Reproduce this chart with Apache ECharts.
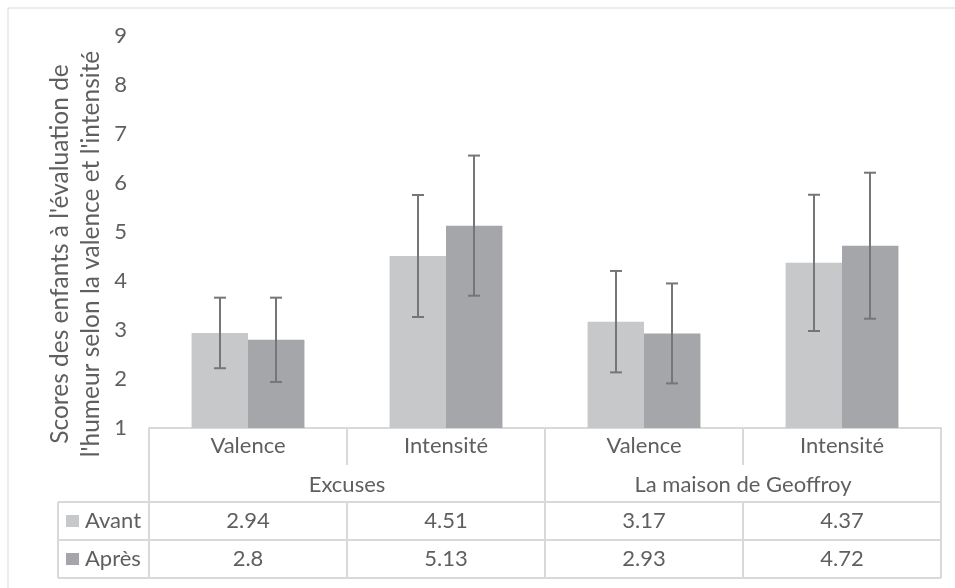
<!DOCTYPE html>
<html>
<head>
<meta charset="utf-8">
<script src="https://cdn.jsdelivr.net/npm/echarts@6/dist/echarts.min.js"></script>
<style>
html,body{margin:0;padding:0;background:#fff;}
#c{width:955px;height:588px;}
</style>
</head>
<body>
<div id="c"></div>
<script>
const categories = ['Valence', 'Intensité', 'Valence', 'Intensité'];
const groups = ['Excuses', 'La maison de Geoffroy'];
const seriesNames = ['Avant', 'Après'];
const avant = [2.94, 4.51, 3.17, 4.37];
const apres = [2.8, 5.13, 2.93, 4.72];
const avantSD = [0.72, 1.245, 1.035, 1.39];
const apresSD = [0.86, 1.43, 1.02, 1.49];
const yMin = 1, yMax = 9, yStep = 1;
const yTitle = "Scores des enfants à l'évaluation de\nl'humeur selon la valence et l'intensité";

const FONT = 'Lato';
const TXT = '#5f5f5f';
const LINE = '#d9d9d9';
const colors = ['#c7c8ca', '#a5a6a9'];
const ERR = '#767676';
const CAT_GAP = 0.43;
const FS = 22;
const FS_TITLE = 24.5;

const chart = echarts.init(document.getElementById('c'), null, {renderer: 'canvas'});

function errSeries(idx, means, sds) {
  return {
    type: 'custom',
    name: seriesNames[idx] + ' SD',
    z: 5,
    silent: true,
    data: means.map((m, i) => [i, m, sds[i]]),
    renderItem: function (params, api) {
      const i = api.value(0), m = api.value(1), sd = api.value(2);
      const hi = api.coord([i, m + sd]);
      const lo = api.coord([i, m - sd]);
      const band = api.size([1, 0])[0];
      const bw = band * (1 - CAT_GAP) / 2;
      const cx = Math.round(hi[0] + (idx === 0 ? -1 : 1) * bw / 2);
      const cap = 6;
      const st = {stroke: ERR, lineWidth: 2};
      return {
        type: 'group',
        children: [
          {type: 'line', shape: {x1: cx, y1: hi[1], x2: cx, y2: lo[1]}, style: st},
          {type: 'line', shape: {x1: cx - cap, y1: hi[1], x2: cx + cap, y2: hi[1]}, style: st},
          {type: 'line', shape: {x1: cx - cap, y1: lo[1], x2: cx + cap, y2: lo[1]}, style: st}
        ]
      };
    }
  };
}

chart.setOption({
  animation: false,
  textStyle: {fontFamily: FONT},
  grid: {left: 149, right: 14, top: 36, bottom: 160, containLabel: false},
  xAxis: {
    type: 'category',
    data: categories,
    axisLine: {show: true, lineStyle: {color: LINE, width: 2}},
    axisTick: {show: false},
    axisLabel: {show: true, color: TXT, fontSize: FS, fontFamily: FONT, margin: 7, interval: 0}
  },
  yAxis: {
    type: 'value',
    min: yMin, max: yMax, interval: yStep,
    axisLine: {show: false},
    axisTick: {show: false},
    splitLine: {show: false},
    axisLabel: {color: TXT, fontSize: FS, fontFamily: FONT, margin: 22}
  },
  series: [
    {type: 'bar', name: seriesNames[0], data: avant, barGap: '0%', barCategoryGap: (CAT_GAP * 100) + '%', itemStyle: {color: colors[0]}},
    {type: 'bar', name: seriesNames[1], data: apres, barGap: '0%', barCategoryGap: (CAT_GAP * 100) + '%', itemStyle: {color: colors[1]}},
    errSeries(0, avant, avantSD),
    errSeries(1, apres, apresSD)
  ]
});

function buildTable() {
  const c0 = chart.convertToPixel({xAxisIndex: 0}, 0);
  const c1 = chart.convertToPixel({xAxisIndex: 0}, 1);
  const band = c1 - c0;
  const centers = categories.map((_, i) => chart.convertToPixel({xAxisIndex: 0}, i));
  const left = centers[0] - band / 2;
  const right = centers[centers.length - 1] + band / 2;
  const yAxisPix = chart.convertToPixel({yAxisIndex: 0}, yMin);
  const rowCat = yAxisPix + 37;
  const rowGrp = yAxisPix + 74;
  const row1 = rowGrp + 38;
  const row2 = row1 + 38;
  const legLeft = 58;
  const els = [];
  const ln = (x1, y1, x2, y2) => els.push({type: 'line', silent: true, shape: {x1, y1, x2, y2}, style: {stroke: LINE, lineWidth: 2}});
  // frame
  els.push({type: 'rect', silent: true, shape: {x: 8, y: 8, width: 1000, height: 700}, style: {fill: null, stroke: LINE, lineWidth: 1}});
  // verticals
  ln(left, yAxisPix, left, row2);
  ln(right, yAxisPix, right, row2);
  const perGroup = categories.length / groups.length;
  for (let k = 1; k < categories.length; k++) {
    const x = left + k * band;
    if (k % perGroup === 0) {
      ln(x, yAxisPix, x, row2);
    } else {
      ln(x, yAxisPix, x, rowCat);
      ln(x, rowGrp, x, row2);
    }
  }
  ln(legLeft, rowGrp, legLeft, row2);
  ln(legLeft, rowGrp, right, rowGrp);
  ln(legLeft, row1, right, row1);
  ln(legLeft, row2, right, row2);
  // group labels
  groups.forEach((g, gi) => {
    const gx = left + (gi + 0.5) * perGroup * band;
    els.push({type: 'text', silent: true, x: gx, y: (rowCat + rowGrp) / 2 + 1,
      style: {text: g, fill: TXT, font: FS + 'px ' + FONT, align: 'center', verticalAlign: 'middle'}});
  });
  // data rows
  const rows = [avant, apres];
  rows.forEach((vals, ri) => {
    const yTop = ri === 0 ? rowGrp : row1;
    const yc = yTop + 19;
    els.push({type: 'rect', silent: true, shape: {x: 66, y: yc - 6, width: 13, height: 12}, style: {fill: colors[ri]}});
    els.push({type: 'text', silent: true, x: 85, y: yc,
      style: {text: seriesNames[ri], fill: TXT, font: FS + 'px ' + FONT, align: 'left', verticalAlign: 'middle'}});
    vals.forEach((v, i) => {
      els.push({type: 'text', silent: true, x: centers[i], y: yc,
        style: {text: String(v), fill: TXT, font: FS + 'px ' + FONT, align: 'center', verticalAlign: 'middle'}});
    });
  });
  // y title
  els.push({type: 'text', silent: true, x: 76, y: 254, rotation: Math.PI / 2,
    style: {text: yTitle, fill: TXT, font: FS_TITLE + 'px ' + FONT, align: 'center', verticalAlign: 'middle', lineHeight: 31}});
  chart.setOption({graphic: els});
}
buildTable();
</script>
</body>
</html>
